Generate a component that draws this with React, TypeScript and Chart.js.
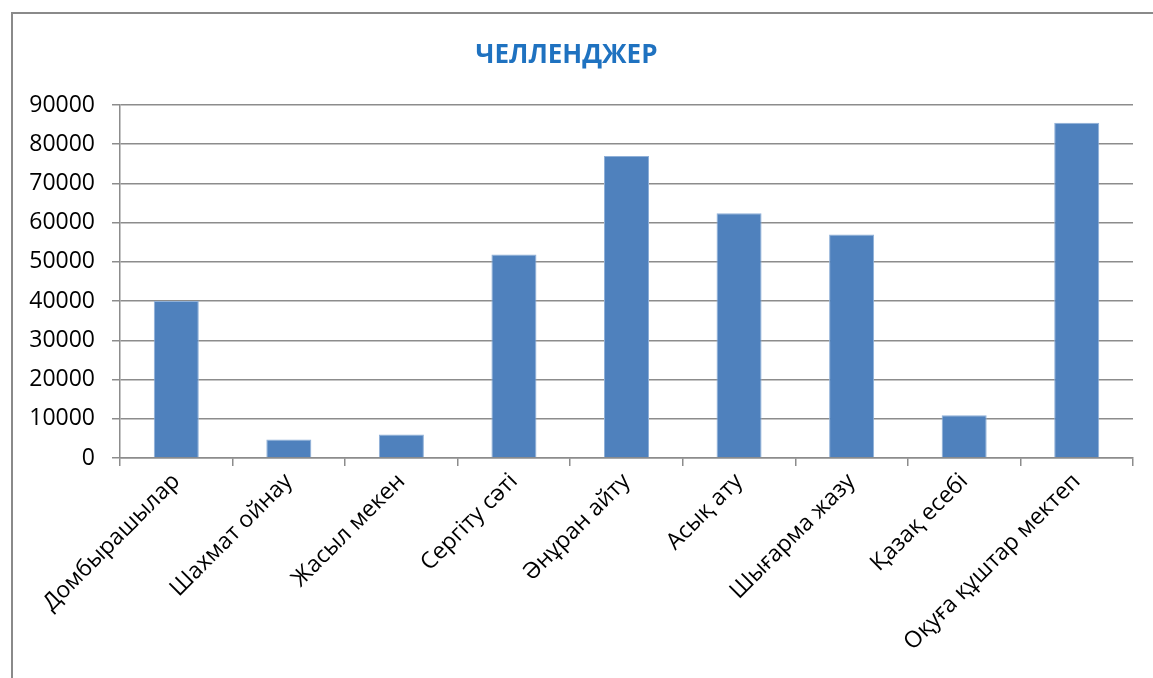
import React, { useEffect, useRef } from "react";
import { Chart, registerables } from "chart.js";

Chart.register(...registerables);

const categories = [
  "Домбырашылар",
  "Шахмат ойнау",
  "Жасыл мекен",
  "Сергіту сәті",
  "Әнұран айту",
  "Асық ату",
  "Шығарма жазу",
  "Қазақ есебі",
  "Оқуға құштар мектеп",
];
const values = [40000, 4700, 6000, 51900, 77000, 62400, 57000, 10900, 85500];
const titleText = "ЧЕЛЛЕНДЖЕР";
const yMin = 0;
const yMax = 90000;
const yStep = 10000;

export default function App() {
  const ref = useRef<HTMLCanvasElement | null>(null);
  useEffect(() => {
    if (!ref.current) return;
    const gridColor = "#8c8c8c";
    const font = { family: "'Open Sans', sans-serif", size: 23 };
    const chart = new Chart(ref.current, {
      type: "bar",
      data: {
        labels: categories,
        datasets: [
          {
            data: values,
            backgroundColor: "#4F81BD",
            borderColor: "#8fb0d8",
            borderWidth: 1,
            barPercentage: 0.4,
            categoryPercentage: 1,
          },
        ],
      },
      options: {
        responsive: false,
        animation: false,
        layout: { padding: { left: 0, right: 20, top: 0, bottom: 0 } },
        plugins: {
          legend: { display: false },
          tooltip: { enabled: false },
          title: {
            display: true,
            text: titleText,
            color: "#1F72C0",
            font: { family: "'Open Sans', sans-serif", size: 26, weight: "bold" },
            padding: { top: 40, bottom: 33.8 },
          },
        },
        scales: {
          x: {
            grid: {
              drawOnChartArea: false,
              drawTicks: true,
              tickLength: 8,
              offset: true,
              color: gridColor,
              lineWidth: 1.5,
            },
            border: { display: true, color: gridColor, width: 1.5 },
            ticks: {
              minRotation: 45,
              maxRotation: 45,
              autoSkip: false,
              color: "#000",
              font,
              padding: 2,
            },
            afterFit: (scale: any) => {
              scale.height = 220;
            },
          },
          y: {
            min: yMin,
            max: yMax,
            grid: {
              color: gridColor,
              lineWidth: 1.5,
              tickLength: 8,
            },
            border: { display: true, color: gridColor, width: 1.5 },
            ticks: {
              stepSize: yStep,
              color: "#000",
              font,
              padding: 17,
              callback: (v: any) => String(v),
            },
            afterFit: (scale: any) => {
              scale.width = 120;
            },
          },
        },
      },
    });
    return () => chart.destroy();
  }, []);
  return (
    <div style={{ position: "absolute", left: 0, top: 0, width: 1153, height: 678, overflow: "hidden", background: "#fff" }}>
      <div
        style={{
          position: "absolute",
          left: 11,
          top: 12,
          width: 1200,
          height: 700,
          border: "2px solid #8a8a8a",
        }}
      />
      <canvas ref={ref} width={1153} height={678} style={{ position: "absolute", left: 0, top: 0 }} />
    </div>
  );
}
